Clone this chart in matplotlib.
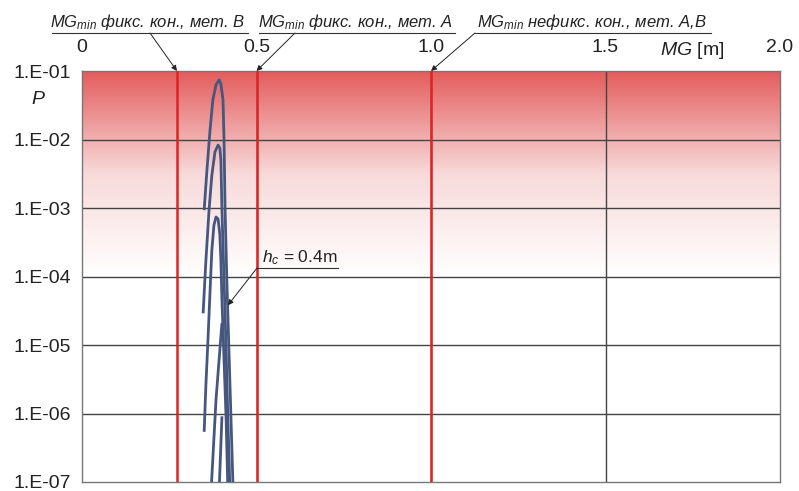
import numpy as np
import matplotlib
matplotlib.use("Agg")
import matplotlib.pyplot as plt
from matplotlib.colors import LinearSegmentedColormap
from matplotlib.lines import Line2D

plt.rcParams['font.family'] = ['Liberation Sans', 'DejaVu Sans']
plt.rcParams['mathtext.fontset'] = 'custom'
plt.rcParams['mathtext.rm'] = 'Liberation Sans'
plt.rcParams['mathtext.it'] = 'Liberation Sans:italic'

# кривые P(MG) при hc = 0.4 m
mg_a = [0.350, 0.358, 0.367, 0.375, 0.384, 0.393, 0.398, 0.404, 0.407, 0.410, 0.415, 0.421, 0.427, 0.433]
p_a = [9.3e-4, 3.6e-3, 1.4e-2, 3.8e-2, 6.3e-2, 7.4e-2, 6.5e-2, 3.8e-2, 9.8e-3, 9.3e-4, 8.9e-5, 8.5e-6, 8.1e-7, 7.6e-8]

mg_b = [0.347, 0.355, 0.364, 0.372, 0.381, 0.390, 0.395, 0.398, 0.401, 0.407, 0.413, 0.418, 0.424]
p_b = [2.9e-5, 1.7e-4, 9.3e-4, 3.0e-3, 6.6e-3, 8.3e-3, 7.5e-3, 5.0e-3, 9.3e-4, 8.9e-5, 8.5e-6, 8.1e-7, 7.6e-8]

mg_c = [0.350, 0.355, 0.361, 0.367, 0.372, 0.378, 0.384, 0.390, 0.395, 0.398, 0.401, 0.407, 0.413, 0.418]
p_c = [5.4e-7, 2.6e-6, 1.2e-5, 6.3e-5, 2.4e-4, 5.6e-4, 7.4e-4, 6.9e-4, 4.1e-4, 1.7e-4, 4.5e-5, 6.0e-6, 8.1e-7, 7.6e-8]

mg_d = [0.401, 0.384, 0.370]
p_d = [2.1e-5, 1.6e-6, 7.6e-8]

mg_e = [0.401, 0.393]
p_e = [9.1e-7, 7.6e-8]

# MG_min
mg_min = [0.272, 0.5, 1.0]
mg_min_labels = [r"$MG_{min}$ фикс. кон., мет. B",
                 r"$MG_{min}$ фикс. кон., мет. A",
                 r"$MG_{min}$ нефикс. кон., мет. A,B"]

x_ticks = [0, 0.5, 1.0, 1.5, 2.0]
x_ticklabels = ["0", "0.5", "1.0", "1.5", "2.0"]
y_ticks = [1e-1, 1e-2, 1e-3, 1e-4, 1e-5, 1e-6, 1e-7]
y_ticklabels = ["1.E-01", "1.E-02", "1.E-03", "1.E-04", "1.E-05", "1.E-06", "1.E-07"]

W, H = 799, 491
fig = plt.figure(figsize=(W / 100, H / 100), dpi=100)
ax = fig.add_axes([82 / W, 1 - 482 / H, (780 - 82) / W, (482 - 71) / H])


def px(x, y):
    # пиксели (от верхнего левого угла) -> доли фигуры
    return x / W, 1 - y / H


ax.set_yscale('log')

# зона риска: градиент от красного к белому
cmap = LinearSegmentedColormap.from_list('risk', ['#ffffff', '#f8dada', '#e45c5c'])
grad = np.linspace(0, 1, 256).reshape(-1, 1)
ax.imshow(grad, aspect='auto', cmap=cmap, origin='lower',
          extent=[0, 1, 0.5, 1], transform=ax.transAxes, zorder=0)
ax.set_xlim(0, 2.0)
ax.set_ylim(1e-7, 1e-1)

for yv in y_ticks[1:-1]:
    ax.axhline(yv, color='#444444', lw=1.0, zorder=1)
for xv in [0.5, 1.0, 1.5]:
    ax.axvline(xv, color='#444444', lw=1.0, zorder=1)

for xv in mg_min:
    ax.axvline(xv, color='#e02424', lw=1.8, zorder=3)

blue = '#45577f'
for mg, p in [(mg_a, p_a), (mg_b, p_b), (mg_c, p_c), (mg_d, p_d), (mg_e, p_e)]:
    ax.plot(mg, p, color=blue, lw=2.0, zorder=4, solid_capstyle='butt')

for s in ax.spines.values():
    s.set_color('#777777')
    s.set_linewidth(1.0)

ax.xaxis.tick_top()
ax.set_xticks(x_ticks)
ax.set_xticklabels(x_ticklabels)
ax.set_yticks(y_ticks)
ax.set_yticklabels(y_ticklabels)
ax.yaxis.set_minor_locator(matplotlib.ticker.NullLocator())
ax.tick_params(axis='x', length=0, pad=11, labelsize=14, colors='#222222')
ax.tick_params(axis='y', length=0, pad=8, labelsize=14, colors='#222222')

fig.text(*px(692, 50), r"$MG$ [m]", fontsize=14, ha='center', va='center', color='#222222')
fig.text(*px(38, 100), "P", fontsize=14, style='italic', ha='center', va='center', color='#222222')

# подписи MG_min с выносками
label_x = [50, 258, 477]
under = [(52, 248), (259, 455), (475, 711)]
tails = [(150, 33), (295, 33), (475, 33)]
for lab, lx, (u0, u1), (tx, ty), xv in zip(mg_min_labels, label_x, under, tails, mg_min):
    fig.text(*px(lx, 27), lab, fontsize=12, style='italic', ha='left', va='baseline', color='#222222')
    fig.add_artist(Line2D([u0 / W, u1 / W], [1 - 33 / H, 1 - 33 / H],
                          transform=fig.transFigure, color='#333333', lw=0.8))
    ax.annotate('', xy=(xv, 1e-1), xycoords='data',
                xytext=px(tx, ty), textcoords='figure fraction',
                arrowprops=dict(arrowstyle='-|>', color='#222222', lw=0.7,
                                mutation_scale=8, shrinkA=0, shrinkB=0),
                annotation_clip=False, zorder=6)

# подпись hc
fig.text(*px(262, 262), r"$h_c$ = 0.4m", fontsize=12.5, ha='left', va='baseline', color='#222222')
fig.add_artist(Line2D([257 / W, 338 / W], [1 - 268 / H, 1 - 268 / H],
                      transform=fig.transFigure, color='#333333', lw=0.8))
ax.annotate('', xy=(0.418, 3.8e-5), xycoords='data',
            xytext=px(257, 268), textcoords='figure fraction',
            arrowprops=dict(arrowstyle='-|>', color='#222222', lw=0.7,
                            mutation_scale=8, shrinkA=0, shrinkB=0),
            zorder=6)

fig.savefig('out.png', dpi=100)
